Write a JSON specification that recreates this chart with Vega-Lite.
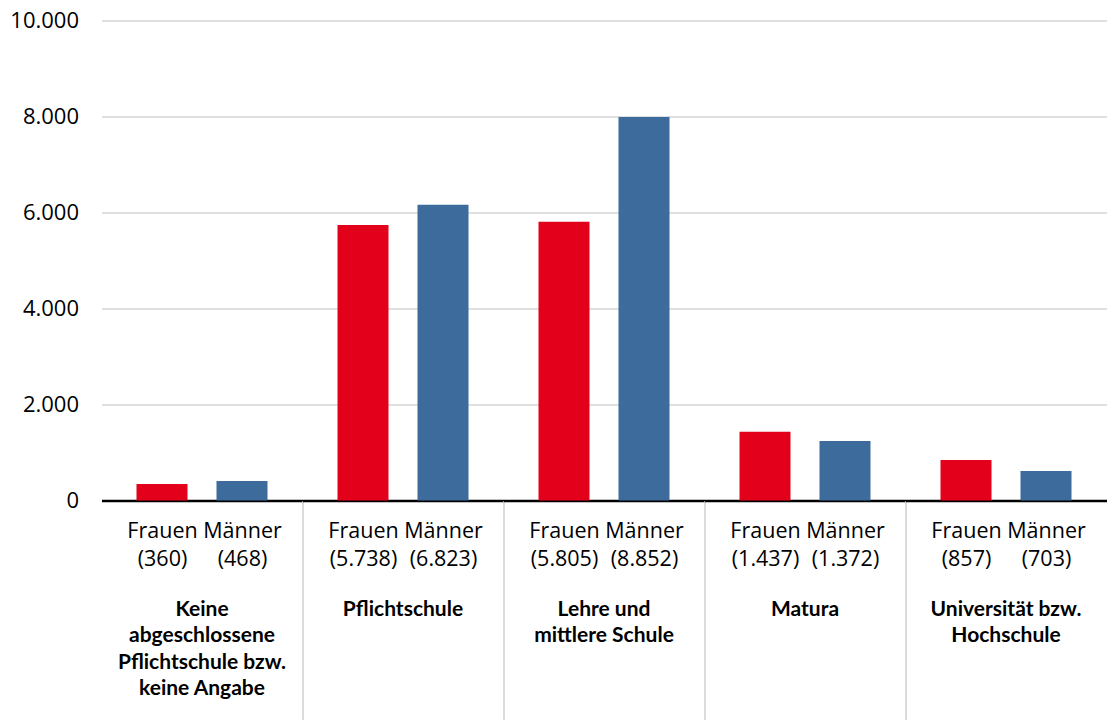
{
  "$schema": "https://vega.github.io/schema/vega-lite/v6.json",
  "padding": {"left": 9.5, "top": 9.5, "right": 4, "bottom": 5},
  "bounds": "flush",
  "spacing": 0,
  "data": {
    "values": [
      {"group": "Keine\nabgeschlossene\nPflichtschule bzw.\nkeine Angabe", "sex": "Frauen", "label": "Frauen (360)", "value": 345},
      {"group": "Keine\nabgeschlossene\nPflichtschule bzw.\nkeine Angabe", "sex": "Männer", "label": "Männer (468)", "value": 408},
      {"group": "Pflichtschule", "sex": "Frauen", "label": "Frauen (5.738)", "value": 5740},
      {"group": "Pflichtschule", "sex": "Männer", "label": "Männer (6.823)", "value": 6160},
      {"group": "Lehre und\nmittlere Schule", "sex": "Frauen", "label": "Frauen (5.805)", "value": 5805},
      {"group": "Lehre und\nmittlere Schule", "sex": "Männer", "label": "Männer (8.852)", "value": 7990},
      {"group": "Matura", "sex": "Frauen", "label": "Frauen (1.437)", "value": 1430},
      {"group": "Matura", "sex": "Männer", "label": "Männer (1.372)", "value": 1240},
      {"group": "Universität bzw.\nHochschule", "sex": "Frauen", "label": "Frauen (857)", "value": 845},
      {"group": "Universität bzw.\nHochschule", "sex": "Männer", "label": "Männer (703)", "value": 615}
    ]
  },
  "facet": {
    "column": {
      "field": "group",
      "type": "nominal",
      "sort": ["Keine\nabgeschlossene\nPflichtschule bzw.\nkeine Angabe", "Pflichtschule", "Lehre und\nmittlere Schule", "Matura", "Universität bzw.\nHochschule"],
      "title": null,
      "header": {
        "labelOrient": "bottom",
        "labelFont": "Lato",
        "labelFontWeight": "bold",
        "labelFontSize": 21,
        "labelLineHeight": 26.5,
        "labelColor": "#000000",
        "labelBaseline": "top",
        "labelPadding": 98,
        "labelExpr": "split(datum.label, '\\n')"
      }
    }
  },
  "resolve": {"scale": {"x": "independent"}},
  "spec": {
    "width": 201,
    "height": 480,
    "mark": {"type": "bar"},
    "encoding": {
      "x": {
        "field": "label",
        "type": "nominal",
        "title": null,
        "scale": {"paddingInner": 0.3625, "paddingOuter": 0.4375},
        "axis": {
          "domainColor": "#000000",
          "domainWidth": 2.5,
          "ticks": true,
          "tickSize": 219,
          "tickColor": "#C8C8C8",
          "tickWidth": 1.3,
          "tickOpacity": {"condition": {"test": "indexof(datum.value, 'Männer') >= 0 || datum.value === 'Frauen (360)'", "value": 0}, "value": 1},
          "tickOffset": -60.5,
          "labelOffset": 60.5,
          "labelPadding": -199.5,
          "labelAngle": 0,
          "labelOverlap": false,
          "labelExpr": "split(datum.value, ' ')",
          "labelLineHeight": 28.5,
          "labelFont": "Open Sans",
          "labelFontSize": 21.5,
          "labelColor": "#000000",
          "grid": false
        }
      },
      "y": {
        "field": "value",
        "type": "quantitative",
        "title": null,
        "scale": {"domain": [0, 10000]},
        "axis": {
          "values": [0, 2000, 4000, 6000, 8000, 10000],
          "labelExpr": "replace(format(datum.value, ',.0f'), ',', '.')",
          "grid": true,
          "gridColor": "#D4D4D4",
          "gridWidth": 1.3,
          "ticks": false,
          "domain": false,
          "labelPadding": 23,
          "labelFont": "Open Sans",
          "labelFontSize": 22,
          "labelColor": "#000000"
        }
      },
      "color": {
        "field": "sex",
        "type": "nominal",
        "scale": {"domain": ["Frauen", "Männer"], "range": ["#E3001B", "#3D6B9C"]},
        "legend": null
      }
    }
  },
  "config": {
    "view": {"stroke": null},
    "background": "#ffffff"
  }
}
